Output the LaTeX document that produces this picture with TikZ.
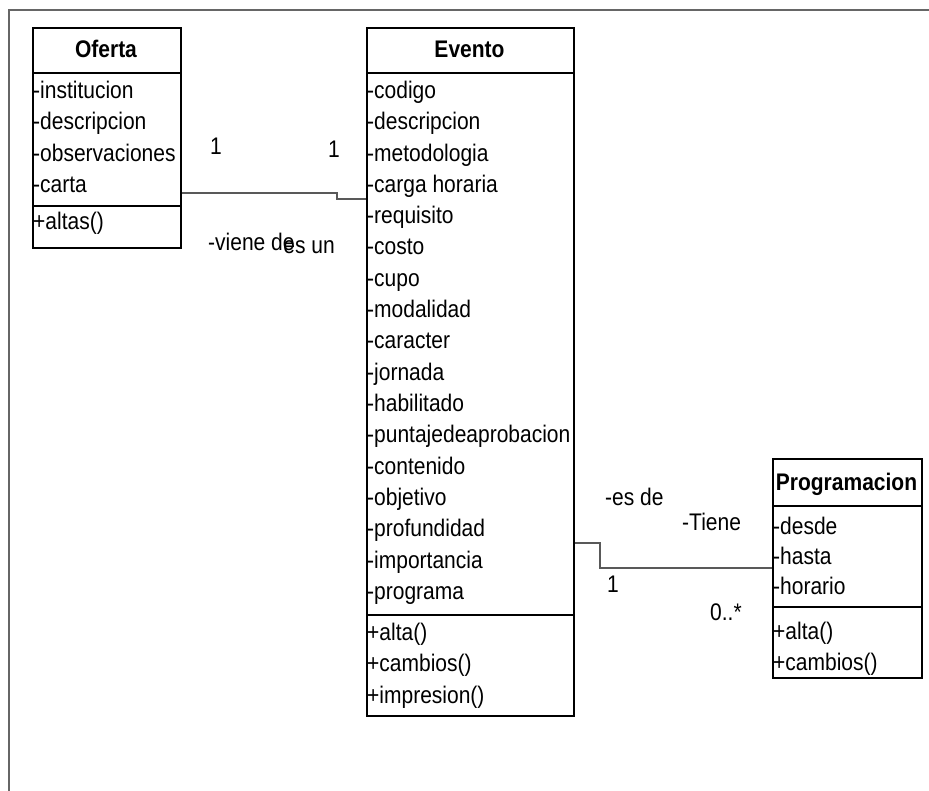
\documentclass[tikz,border=0pt]{standalone}
\usepackage{fontspec}
\setmainfont{Liberation Sans}[FakeStretch=0.875]
\begin{document}
\begin{tikzpicture}[x=1pt,y=-1pt,
  txt/.style={inner sep=0pt,anchor=base west,font=\fontsize{24}{28}\selectfont},
  ttl/.style={inner sep=0pt,anchor=base,font=\fontsize{24}{28}\selectfont\bfseries},
  classbox/.style={draw=black,line width=1.8pt,anchor=north west,inner sep=0pt},
  sep/.style={draw=black,line width=1.5pt},
  assoc/.style={draw=black!65,line width=1.3pt},
  frameline/.style={draw=black!60,line width=2pt}]
\useasboundingbox (0,0) rectangle (929,791);

% outer frame (top and left edges)
\draw[frameline] (929,10) -- (9,10) -- (9,791);

% ---------- Oferta ----------
\node[classbox,minimum width=148pt,minimum height=220pt] (oferta) at (32,27) {};
\draw[sep] (oferta.west |- 0,73) -- (oferta.east |- 0,73);
\draw[sep] (oferta.west |- 0,206) -- (oferta.east |- 0,206);
\node[ttl] (ofertaT) at (106,58) {Oferta};
\node[txt] (o1) at (33,98.5) {-institucion};
\node[txt] (o2) at (33,129.8) {-descripcion};
\node[txt] (o3) at (33,161.1) {-observaciones};
\node[txt] (o4) at (33,192.4) {-carta};
\node[txt] (o5) at (33,230) {+altas()};

% ---------- Evento ----------
\node[classbox,minimum width=207pt,minimum height=688pt] (evento) at (366,27) {};
\draw[sep] (evento.west |- 0,73) -- (evento.east |- 0,73);
\draw[sep] (evento.west |- 0,615) -- (evento.east |- 0,615);
\node[ttl] (eventoT) at (469.5,58) {Evento};
\foreach \t [count=\i from 0] in {-codigo,-descripcion,-metodologia,-carga horaria,
  -requisito,-costo,-cupo,-modalidad,-caracter,-jornada,-habilitado,
  -puntajedeaprobacion,-contenido,-objetivo,-profundidad,-importancia,-programa}
  \node[txt] (ea\i) at (367,98.5+31.3*\i) {\t};
\node[txt] (em1) at (367,640.5) {+alta()};
\node[txt] (em2) at (367,671.8) {+cambios()};
\node[txt] (em3) at (367,703.1) {+impresion()};

% ---------- Programacion ----------
\node[classbox,minimum width=149pt,minimum height=219pt] (prog) at (772,458) {};
\draw[sep] (prog.west |- 0,506) -- (prog.east |- 0,506);
\draw[sep] (prog.west |- 0,607) -- (prog.east |- 0,607);
\node[ttl] (progT) at (846.5,490) {Programacion};
\node[txt] (p1) at (773,534) {-desde};
\node[txt] (p2) at (773,564) {-hasta};
\node[txt] (p3) at (773,594) {-horario};
\node[txt] (p4) at (773,639) {+alta()};
\node[txt] (p5) at (773,670) {+cambios()};

% ---------- associations ----------
\draw[assoc] (oferta.east |- 0,193) -- (337,193) |- (evento.west |- 0,199);
\draw[assoc] (evento.east |- 0,543) -- (600,543) |- (prog.west |- 0,568);

% role names and multiplicities
\node[txt] (m1) at (210,155) {1};
\node[txt] (m2) at (328,158) {1};
\node[txt] (r1) at (208,251) {-viene de};
\node[txt,anchor=base east] (r2) at (335,254) {es un};
\node[txt] (r3) at (605,505) {-es de};
\node[txt] (r4) at (682,530) {-Tiene};
\node[txt] (m3) at (607,592) {1};
\node[txt] (m4) at (710,620) {0..*};
\end{tikzpicture}
\end{document}
